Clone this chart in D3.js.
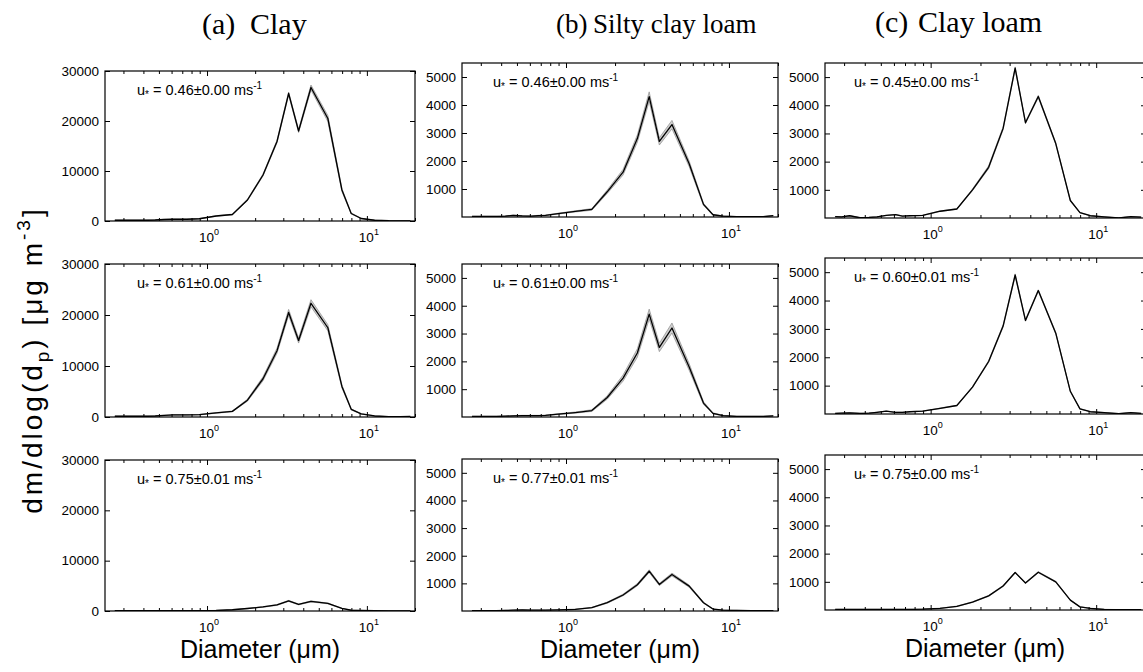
<!DOCTYPE html>
<html>
<head>
<meta charset="utf-8">
<script src="https://cdn.jsdelivr.net/npm/d3@7"></script>
<style>
  body { margin: 0; background: #fff; }
  svg { display: block; }
  text { font-family: "Liberation Sans", Arial, sans-serif; fill: #000; }
</style>
</head>
<body>
<svg id="chart" width="1143" height="672"></svg>
<script>
// particle diameter, bin midpoints (um)
const diameters = [0.265, 0.29, 0.324, 0.374, 0.424, 0.474, 0.539, 0.614, 0.675, 0.748, 0.894, 1.14, 1.44, 1.79, 2.24, 2.74, 3.24, 3.74, 4.47, 5.70, 6.98, 7.98, 9.22, 11.18, 13.7, 16.2, 18.7];

// (a) clay
const clay046   = [150, 150, 150, 150, 150, 200, 300, 350, 350, 350, 450, 1000, 1300, 4200, 9200, 15900, 25500, 18000, 26700, 20500, 6200, 1500, 500, 150, 50, 30, 30];
const clay046Sd = [20, 20, 20, 20, 20, 20, 30, 30, 30, 30, 40, 60, 80, 150, 200, 250, 300, 300, 500, 600, 300, 100, 40, 20, 10, 10, 10];
const clay061   = [150, 150, 150, 150, 150, 200, 300, 400, 400, 400, 450, 800, 1100, 3300, 7500, 13000, 20500, 15000, 22300, 17500, 6000, 1500, 600, 200, 80, 50, 100];
const clay061Sd = [20, 20, 20, 20, 20, 20, 30, 40, 40, 40, 40, 60, 80, 200, 400, 500, 600, 500, 700, 600, 300, 100, 50, 20, 10, 10, 10];
const clay075   = [50, 50, 50, 50, 50, 50, 60, 60, 60, 60, 70, 100, 250, 500, 800, 1200, 2000, 1300, 1900, 1500, 500, 150, 100, 50, 30, 20, 20];
const clay075Sd = [10, 10, 10, 10, 10, 10, 10, 10, 10, 10, 10, 20, 30, 40, 60, 80, 100, 80, 100, 80, 40, 20, 10, 10, 10, 10, 10];

// (b) silty clay loam
const silty046   = [20, 20, 20, 20, 30, 60, 40, 30, 50, 60, 120, 200, 270, 900, 1600, 2800, 4300, 2700, 3300, 1900, 450, 80, 30, 10, 10, 10, 50];
const silty046Sd = [5, 5, 5, 5, 5, 10, 10, 10, 10, 10, 15, 20, 30, 60, 100, 130, 170, 130, 150, 100, 40, 15, 10, 5, 5, 5, 5];
const silty061   = [20, 20, 20, 20, 30, 40, 50, 50, 50, 60, 100, 160, 230, 700, 1400, 2300, 3700, 2500, 3200, 1800, 500, 130, 50, 20, 20, 20, 40];
const silty061Sd = [5, 5, 5, 5, 5, 10, 10, 10, 10, 10, 15, 20, 30, 60, 110, 150, 180, 150, 180, 120, 50, 20, 10, 5, 5, 5, 5];
const silty077   = [10, 10, 10, 10, 20, 30, 40, 30, 30, 30, 40, 60, 120, 300, 580, 950, 1440, 960, 1320, 900, 300, 70, 30, 20, 10, 10, 10];
const silty077Sd = [5, 5, 5, 5, 5, 5, 5, 5, 5, 5, 5, 10, 10, 20, 30, 40, 50, 40, 50, 40, 20, 10, 5, 5, 5, 5, 5];

// (c) clay loam
const loam045   = [50, 40, 80, 10, 20, 40, 90, 120, 70, 80, 90, 240, 320, 1000, 1800, 3180, 5320, 3380, 4310, 2640, 620, 190, 80, 40, 0, 50, 30];
const loam045Sd = [5, 5, 5, 5, 5, 5, 5, 5, 5, 5, 5, 10, 10, 30, 50, 50, 40, 30, 40, 30, 20, 10, 5, 5, 5, 5, 5];
const loam060   = [20, 30, 40, 20, 30, 60, 100, 60, 60, 80, 100, 200, 300, 950, 1850, 3100, 4900, 3300, 4350, 2850, 800, 180, 80, 50, 10, 50, 20];
const loam060Sd = [5, 5, 5, 5, 5, 5, 5, 5, 5, 5, 5, 10, 10, 20, 30, 40, 40, 30, 30, 30, 20, 10, 5, 5, 5, 5, 5];
const loam075   = [20, 20, 20, 20, 20, 20, 20, 20, 20, 20, 30, 60, 130, 280, 500, 850, 1330, 960, 1340, 1000, 350, 110, 60, 20, 10, 10, 10];
const loam075Sd = [5, 5, 5, 5, 5, 5, 5, 5, 5, 5, 5, 5, 10, 10, 15, 20, 20, 20, 20, 20, 10, 5, 5, 5, 5, 5, 5];

const panelLetters = ["(a)", "(b)", "(c)"];
const soilNames = ["Clay", "Silty clay loam", "Clay loam"];
const ustarLabels = [
  ["0.46\u00b10.00", "0.61\u00b10.00", "0.75\u00b10.01"],
  ["0.46\u00b10.00", "0.61\u00b10.00", "0.77\u00b10.01"],
  ["0.45\u00b10.00", "0.60\u00b10.01", "0.75\u00b10.00"]
];
const clayTicks = [0, 10000, 20000, 30000];
const loamTicks = [1000, 2000, 3000, 4000, 5000];
const majorXTicks = [1, 10];
const minorXTicks = [0.3, 0.4, 0.5, 0.6, 0.7, 0.8, 0.9, 2, 3, 4, 5, 6, 7, 8, 9, 20];

const series = [
  [[clay046, clay046Sd], [clay061, clay061Sd], [clay075, clay075Sd]],
  [[silty046, silty046Sd], [silty061, silty061Sd], [silty077, silty077Sd]],
  [[loam045, loam045Sd], [loam060, loam060Sd], [loam075, loam075Sd]]
];

// layout of the three pasted columns
const columns = [
  { x0: 105, x1: 415, tops: [71, 264, 460], bottoms: [221, 417, 611], yDomain: [0, 30000], yTicks: clayTicks,
    title: [202, 250, 34, 30], xlab: [260, 658], ulab: [32, 24] },
  { x0: 462, x1: 778, tops: [63, 264, 459], bottoms: [217, 417, 611], yDomain: [0, 5500], yTicks: loamTicks,
    title: [556, 593, 33, 27], xlab: [620, 658], ulab: [31, 24] },
  { x0: 825, x1: 1146, tops: [63, 258, 455], bottoms: [218, 414, 610], yDomain: [0, 5500], yTicks: loamTicks,
    title: [875, 918, 32, 30], xlab: [985, 657], ulab: [29, 24] }
];
const xDomain = [0.23, 20];

const svg = d3.select("#chart");

columns.forEach((col, ci) => {
  [[panelLetters[ci], col.title[0]], [soilNames[ci], col.title[1]]].forEach(([s, tx]) => {
    svg.append("text")
      .attr("x", tx).attr("y", col.title[2])
      .style("font-family", "'Liberation Serif', 'Times New Roman', serif")
      .style("font-size", col.title[3] + "px")
      .text(s);
  });

  svg.append("text")
    .attr("x", col.xlab[0]).attr("y", col.xlab[1])
    .attr("text-anchor", "middle")
    .style("font-size", "25px")
    .text("Diameter (\u03bcm)");

  col.tops.forEach((top, ri) => {
    const bottom = col.bottoms[ri];
    const x = d3.scaleLog().domain(xDomain).range([col.x0, col.x1]);
    const y = d3.scaleLinear().domain(col.yDomain).range([bottom, top]);
    const [mean, sd] = series[ci][ri];
    const rows = diameters.map((d, i) => ({ d, m: mean[i], s: sd[i] }));
    const g = svg.append("g");

    const clipId = `clip-${ci}-${ri}`;
    g.append("clipPath").attr("id", clipId)
      .append("rect")
      .attr("x", col.x0).attr("y", top)
      .attr("width", col.x1 - col.x0).attr("height", bottom - top);

    const band = d3.area()
      .x(r => x(r.d))
      .y0(r => y(Math.max(0, r.m - r.s)))
      .y1(r => y(r.m + r.s));
    const line = d3.line()
      .x(r => x(r.d))
      .y(r => y(r.m));

    g.append("path").datum(rows)
      .attr("d", band)
      .attr("fill", "#cfcfcf")
      .attr("stroke", "#8c8c8c")
      .attr("stroke-width", 0.7)
      .attr("clip-path", `url(#${clipId})`);
    g.append("path").datum(rows)
      .attr("d", line)
      .attr("fill", "none")
      .attr("stroke", "#000")
      .attr("stroke-width", 1.3)
      .attr("stroke-linejoin", "round")
      .attr("clip-path", `url(#${clipId})`);

    // inward ticks, MATLAB style
    const noDomain = a => a.select(".domain").remove();
    g.append("g").attr("transform", `translate(0,${bottom})`)
      .call(d3.axisBottom(x).tickValues(minorXTicks).tickSize(-3).tickFormat("")).call(noDomain);
    g.append("g").attr("transform", `translate(0,${bottom})`)
      .call(d3.axisBottom(x).tickValues(majorXTicks).tickSize(-5).tickFormat("")).call(noDomain);
    g.append("g").attr("transform", `translate(0,${top})`)
      .call(d3.axisTop(x).tickValues(minorXTicks).tickSize(-3).tickFormat("")).call(noDomain);
    g.append("g").attr("transform", `translate(0,${top})`)
      .call(d3.axisTop(x).tickValues(majorXTicks).tickSize(-5).tickFormat("")).call(noDomain);

    const left = g.append("g").attr("transform", `translate(${col.x0},0)`)
      .call(d3.axisLeft(y).tickValues(col.yTicks).tickSize(-5).tickPadding(6).tickFormat(d3.format("d")))
      .call(noDomain);
    left.attr("font-size", null).attr("font-family", null);
    left.selectAll("text").style("font-size", "13.5px");
    g.append("g").attr("transform", `translate(${col.x1},0)`)
      .call(d3.axisRight(y).tickValues(col.yTicks).tickSize(-5).tickFormat(""))
      .call(noDomain);
    g.selectAll(".tick line").attr("stroke", "#000").attr("stroke-width", 1);

    // decade labels 10^0, 10^1
    majorXTicks.forEach(v => {
      const t = g.append("text")
        .attr("x", x(v) + 2).attr("y", bottom + 21)
        .attr("text-anchor", "middle")
        .style("font-size", "13.5px");
      t.append("tspan").text("10");
      t.append("tspan").attr("dy", -7).style("font-size", "9px").text(Math.round(Math.log10(v)));
    });

    g.append("rect")
      .attr("x", col.x0).attr("y", top)
      .attr("width", col.x1 - col.x0).attr("height", bottom - top)
      .attr("fill", "none").attr("stroke", "#000").attr("stroke-width", 1.2);

    const u = g.append("text")
      .attr("x", col.x0 + col.ulab[0]).attr("y", top + col.ulab[1])
      .style("font-size", "14.5px");
    u.append("tspan").text("u");
    u.append("tspan").attr("dy", 3).style("font-size", "10px").text("*");
    u.append("tspan").attr("dy", -3).text(` = ${ustarLabels[ci][ri]} ms`);
    u.append("tspan").attr("dy", -6).style("font-size", "10px").text("-1");
  });
});

// shared y label
const yl = svg.append("text")
  .attr("transform", "translate(42,360) rotate(-90)")
  .attr("text-anchor", "middle")
  .style("font-size", "28px")
  .style("letter-spacing", "3px");
yl.append("tspan").text("dm/dlog(d");
yl.append("tspan").attr("dy", 7).style("font-size", "19px").text("p");
yl.append("tspan").attr("dy", -7).text(") [\u03bcg m");
yl.append("tspan").attr("dy", -12).style("font-size", "19px").text("-3");
yl.append("tspan").attr("dy", 12).text("]");
</script>
</body>
</html>
